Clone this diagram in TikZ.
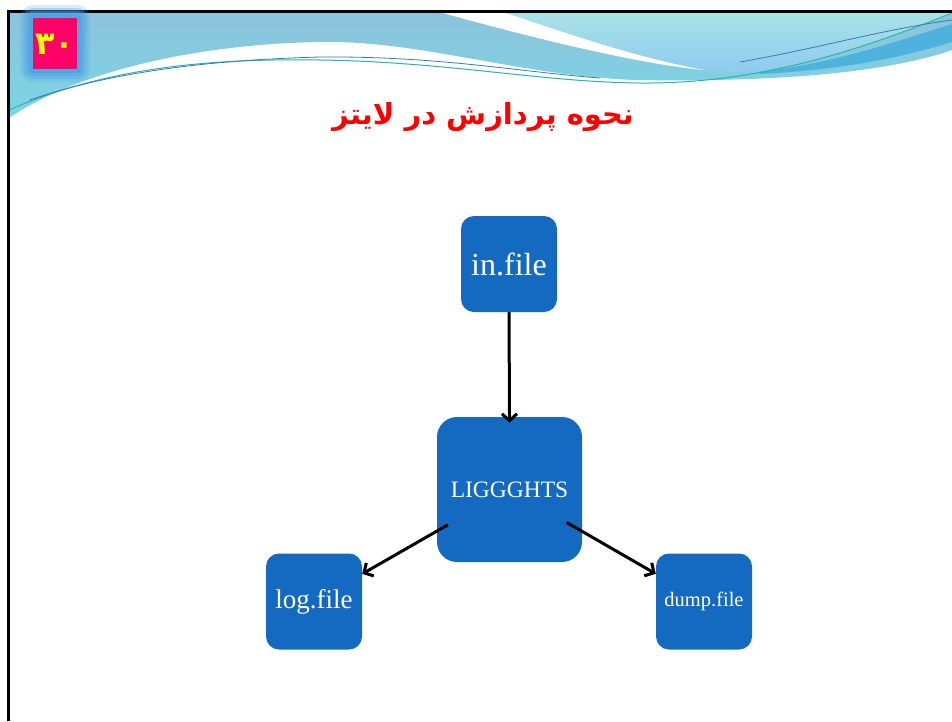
\documentclass[tikz,border=0pt]{standalone}
\usepackage{fontspec}
\usetikzlibrary{arrows.meta}
\setmainfont{Liberation Serif}
\newfontfamily\arabicfont[Script=Arabic]{DejaVu Sans}
\TeXXeTstate=1
\definecolor{boxblue}{HTML}{1469C0}
\definecolor{titlered}{HTML}{FF0000}
\definecolor{pinkbox}{HTML}{FF0066}
\definecolor{numyellow}{HTML}{FFFF00}
\definecolor{glowblue}{HTML}{4A9FE6}
\definecolor{waveTop}{HTML}{8DC3DC}
\definecolor{waveBot}{HTML}{7AD6E6}
\definecolor{lightTop}{HTML}{AAE3E6}
\definecolor{lightBot}{HTML}{8ECBEF}
\definecolor{darkband}{HTML}{4DB3DC}
\definecolor{tealline}{HTML}{2BB5A5}
\definecolor{blueline}{HTML}{3A78C0}
\tikzset{
  filebox/.style={fill=boxblue, draw=none, rounded corners=13pt, minimum width=96pt, minimum height=96pt, inner sep=0pt, text=white, font=\fontsize{27}{29}\selectfont},
  bigbox/.style={fill=boxblue, draw=none, rounded corners=20pt, minimum width=145pt, minimum height=145pt, inner sep=0pt, text=white, font=\fontsize{23.5}{26}\selectfont},
  arr/.style={draw=black, line width=3pt, -{Straight Barb[length=7pt,width=15pt,line width=3pt]}},
}
\begin{document}
\begin{tikzpicture}[x=1pt,y=-1pt]
\useasboundingbox (0,0) rectangle (952,721);
\fill[white] (0,0) rectangle (952,721);
% header wave: main blue region
\shade[top color=waveTop, bottom color=waveBot]
  (9,12) -- (952,12) -- (952,50)
  .. controls (880,75) and (760,82) .. (636,80)
  .. controls (520,76) and (420,40) .. (320,42)
  .. controls (200,44) and (80,70) .. (9,118) -- cycle;
% lighter right region above the stripe
\shade[top color=lightTop, bottom color=lightBot]
  (503,12) -- (952,12) -- (952,14)
  .. controls (880,40) and (800,72) .. (730,72)
  -- (702,70)
  .. controls (660,62) and (600,45) .. (503,12) -- cycle;
% dark band at right
\fill[darkband]
  (760,72) .. controls (840,62) and (900,40) .. (952,24)
  -- (952,42) .. controls (900,58) and (840,70) .. (760,74) -- cycle;
% white stripe
\fill[white]
  (439,12) -- (503,12)
  .. controls (580,38) and (640,58) .. (704,70)
  .. controls (640,64) and (540,40) .. (439,12) -- cycle;
% thin lines
\draw[tealline, line width=1pt]
  (9,110) .. controls (100,70) and (200,58) .. (320,60)
  .. controls (450,62) and (540,82) .. (640,83)
  .. controls (760,84) and (860,50) .. (952,13);
\draw[blueline, line width=0.8pt]
  (30,100) .. controls (110,72) and (210,60) .. (320,57)
  .. controls (440,56) and (520,72) .. (600,78);
\draw[blueline, line width=0.8pt]
  (740,62) .. controls (820,48) and (880,30) .. (952,20);
% slide border
\draw[black, line width=3pt] (8,721) -- (8,11) -- (952,11);
% number badge with glow
\foreach \g/\o in {13/0.2,10/0.3,7/0.4,4/0.5}{
  \fill[glowblue, opacity=\o, rounded corners=\g pt] (33-\g,18-\g) rectangle (77+\g,69+\g);
}
\node[fill=pinkbox, minimum width=44pt, minimum height=51pt, inner sep=0pt] (badge) at (55,43.5) {};
\node[text=numyellow, font=\arabicfont\bfseries\fontsize{32}{34}\selectfont] (num) at ([yshift=-1pt]badge.center) {۳۰};
% title
\node[text=titlered, font=\arabicfont\bfseries\fontsize{29}{32}\selectfont] (title) at (483,117) {\beginR نحوه پردازش در لایتز\endR};
% diagram
\node[filebox, font=\fontsize{32}{34}\selectfont] (inf) at (509,264) {in.file};
\node[bigbox] (lig) at (509.5,489.5) {LIGGGHTS};
\node[filebox] (log) at (314,601.5) {log.file};
\node[filebox, font=\fontsize{20.5}{22}\selectfont] (dump) at (704,601.5) {dump.file};
\draw[arr, shorten >=-6pt] (inf.south) -- (lig.north);
\draw[arr, shorten <=71pt] (lig.center) -- (log);
\draw[arr, shorten <=66pt] (lig.center) -- (dump);
\end{tikzpicture}
\end{document}
